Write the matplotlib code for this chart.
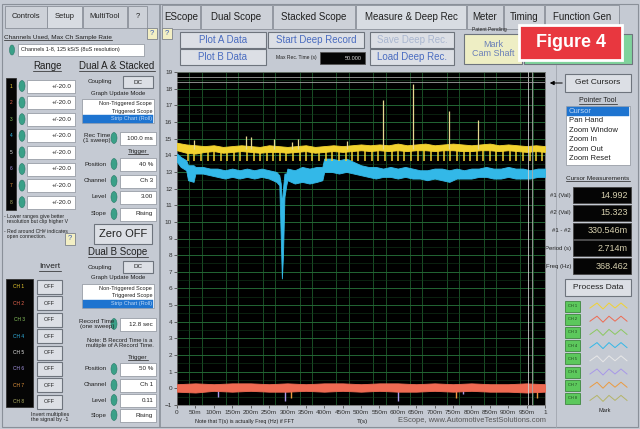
import matplotlib
matplotlib.use('Agg')
import matplotlib.pyplot as plt
from matplotlib.patches import Rectangle, Ellipse
import numpy as np

plt.rcParams['font.family'] = ['Liberation Sans', 'DejaVu Sans']

# ---- trace data ----
# CH1 (yellow) band envelope
yel_t = [0.0, 0.025, 0.05, 0.075, 0.1, 0.125, 0.15, 0.175, 0.2, 0.225, 0.25, 0.275, 0.3, 0.325,
         0.35, 0.375, 0.4, 0.425, 0.45, 0.475, 0.5, 0.525, 0.55, 0.575, 0.6, 0.625, 0.65, 0.675,
         0.7, 0.725, 0.75, 0.775, 0.8, 0.825, 0.85, 0.875, 0.9, 0.925, 0.95, 0.975, 1.0]
yel_hi = [14.75, 14.65, 14.6, 14.55, 14.6, 14.5, 14.55, 14.6, 14.55, 14.5, 14.6, 14.55, 14.5, 14.55,
          14.6, 14.5, 14.55, 14.6, 14.55, 14.6, 14.65, 14.6, 14.65, 14.6, 14.7, 14.6, 14.65, 14.7,
          14.6, 14.65, 14.7, 14.65, 14.6, 14.65, 14.7, 14.6, 14.65, 14.6, 14.55, 14.6, 14.55]
yel_lo = [14.3, 14.15, 14.1, 14.2, 14.25, 14.15, 14.2, 14.25, 14.2, 14.15, 14.2, 14.2, 14.15, 14.2,
          14.25, 14.15, 14.2, 14.25, 14.2, 14.25, 14.3, 14.25, 14.3, 14.25, 14.3, 14.25, 14.3, 14.3,
          14.25, 14.3, 14.3, 14.25, 14.25, 14.3, 14.3, 14.25, 14.3, 14.25, 14.2, 14.25, 14.2]
# downward teeth of CH1
yel_teeth = [0.030, 0.047, 0.066, 0.083, 0.101, 0.119, 0.137, 0.155, 0.172, 0.190, 0.208, 0.226,
             0.244, 0.262, 0.279, 0.297, 0.315, 0.333, 0.351, 0.368, 0.386, 0.404, 0.422, 0.440,
             0.458, 0.476, 0.493, 0.511, 0.529, 0.547, 0.565, 0.583, 0.600, 0.618, 0.636, 0.654,
             0.672, 0.690, 0.708, 0.725, 0.743, 0.761, 0.779, 0.797, 0.815, 0.832, 0.850, 0.868,
             0.886, 0.904, 0.922, 0.940, 0.958, 0.975, 0.993]
yel_teeth_lo = 13.65
# upward spikes of CH1
yel_spike_t = [0.047, 0.187, 0.200, 0.264, 0.312, 0.330, 0.461, 0.561, 0.640, 0.740, 0.819]
yel_spike_v = [14.9, 15.15, 15.1, 15.0, 14.8, 15.0, 14.85, 17.3, 18.25, 16.65, 16.1]

# CH4 (cyan) band envelope
cyan_t = [0.0, 0.010, 0.025, 0.030, 0.045, 0.050, 0.070, 0.090, 0.110, 0.130, 0.150, 0.170,
          0.190, 0.210, 0.230, 0.250, 0.270, 0.278, 0.282, 0.285, 0.288, 0.292, 0.297, 0.300,
          0.320, 0.340, 0.360, 0.380, 0.395, 0.400, 0.420, 0.440, 0.460, 0.480, 0.500, 0.520,
          0.540, 0.560, 0.580, 0.600, 0.620, 0.640, 0.660, 0.680, 0.700, 0.720, 0.740, 0.760,
          0.780, 0.800, 0.820, 0.840, 0.860, 0.880, 0.900, 0.920, 0.940, 0.960, 0.980, 1.000]
cyan_hi = [14.1, 13.9, 13.7, 13.4, 13.4, 13.3, 13.3, 13.2, 13.2, 13.1, 13.2, 13.1,
           13.2, 13.1, 13.2, 13.1, 13.0, 12.8, 12.3, 11.0, 12.0, 12.9, 12.9, 13.2,
           13.1, 13.3, 13.2, 13.3, 13.3, 13.8, 13.8, 13.7, 13.8, 13.6, 13.4, 13.3,
           13.3, 13.2, 13.3, 13.2, 13.3, 13.2, 13.1, 13.1, 13.2, 13.2, 13.1, 13.2,
           13.1, 13.2, 13.2, 13.3, 13.2, 13.2, 13.3, 13.2, 13.2, 13.1, 13.2, 13.2]
cyan_lo = [13.6, 13.3, 13.1, 12.5, 12.4, 12.9, 12.9, 12.8, 12.7, 12.6, 12.7, 12.6,
           12.7, 12.6, 12.7, 12.6, 12.4, 12.2, 9.0, 6.6, 8.0, 11.5, 12.2, 12.5,
           12.3, 12.4, 12.3, 12.4, 12.5, 13.0, 13.0, 12.9, 13.0, 12.9, 12.8, 12.7,
           12.6, 12.7, 12.7, 12.6, 12.7, 12.6, 12.6, 12.5, 12.6, 12.5, 12.4, 12.6,
           12.6, 12.6, 12.7, 12.7, 12.6, 12.6, 12.7, 12.6, 12.6, 12.6, 12.7, 12.7]

# CH2 (red) band envelope near 0 V
red_t = [0.0, 0.05, 0.1, 0.15, 0.2, 0.25, 0.3, 0.35, 0.4, 0.45, 0.5, 0.55, 0.6, 0.65, 0.7,
         0.75, 0.8, 0.85, 0.9, 0.95, 1.0]
red_hi = [0.25, 0.3, 0.25, 0.3, 0.3, 0.25, 0.3, 0.25, 0.3, 0.3, 0.25, 0.3, 0.3, 0.25, 0.3,
          0.25, 0.3, 0.25, 0.25, 0.3, 0.25]
red_lo = [-0.2, -0.25, -0.15, -0.2, -0.15, -0.2, -0.2, -0.15, -0.2, -0.15, -0.2, -0.15, -0.2,
          -0.2, -0.15, -0.2, -0.15, -0.2, -0.2, -0.25, -0.2]
# small glitches of CH6 / CH7 below zero
glitch_t = [0.112, 0.293, 0.311, 0.600, 0.758, 0.778, 0.977]
glitch_v = [-0.5, -0.75, -0.6, -0.75, -0.6, -0.35, -0.6]
glitch_ch = [6, 6, 7, 6, 7, 6, 7]

# cursors
cursor_t = [0.955, 0.964]
cursor_v = [18.68, 18.42]

x_ticks = [i * 0.05 for i in range(21)]
x_labels = ['0'] + ['%dm' % (50 * i) for i in range(1, 20)] + ['1']
y_ticks = list(range(-1, 20))

ch_colors = {1: '#f2d230', 2: '#ee6a52', 3: '#8cc860', 4: '#33b8e8',
             5: '#e8e8e8', 6: '#a898e8', 7: '#eb9a40', 8: '#b4b468'}

cursor_vals = [('#1 (Val)', '14.992'), ('#2 (Val)', '15.323'), ('#1 - #2', '330.546m'),
               ('Period (s)', '2.714m'), ('Freq (Hz)', '368.462')]
pointer_items = ['Cursor', 'Pan Hand', 'Zoom Window', 'Zoom In', 'Zoom Out', 'Zoom Reset']

# ---- figure ----
BG = '#c5cad3'
fig = plt.figure(figsize=(6.4, 4.29), dpi=100, facecolor=BG)
ui = fig.add_axes([0, 0, 1, 1])
ui.set_xlim(0, 640)
ui.set_ylim(429, 0)
ui.axis('off')
renderer = fig.canvas.get_renderer()


def box(x, y, w, h, fc='#e2e5ea', ec='#7d838c', lw=0.6, z=1):
    ui.add_patch(Rectangle((x, y), w, h, facecolor=fc, edgecolor=ec, linewidth=lw, zorder=z))


def txt(x, y, s, size=4.5, ha='center', color='#202020', underline=False, **kw):
    t = ui.text(x, y, s, fontsize=size, ha=ha, va='center', color=color, zorder=5, **kw)
    if underline:
        bb = t.get_window_extent(renderer).transformed(ui.transData.inverted())
        ui.plot([bb.x0, bb.x1], [bb.y0 + 0.3, bb.y0 + 0.3], color=color, lw=0.5, zorder=5)
    return t


def button(x, y, w, h, s, size=6, color='#202020'):
    box(x, y, w, h, fc='#dcdfe5', ec='#6e747d', lw=0.8)
    txt(x + w / 2, y + h / 2, s, size=size, color=color)


def knob(x, y):
    ui.add_patch(Ellipse((x, y), 6, 11, facecolor='#3aa088', edgecolor='#2b7a68', lw=0.4, zorder=3))


def field(x, y, w, s, size=4.5):
    box(x, y - 6.5, w, 13, fc='#ffffff', ec='#8a9099', lw=0.5)
    txt(x + w - 3, y, s, size=size, ha='right')


# panels
box(2, 4, 636, 423, fc=BG, ec='#8a9099', lw=0.8, z=0)
ui.plot([160, 160], [5, 427], color='#8a9099', lw=1.2)
ui.plot([556, 556], [65, 427], color='#a0a6ae', lw=0.6)

# tabs
for x0, w, s, act in [(5, 42, 'Controls', False), (47, 35, 'Setup', True),
                      (83, 44, 'MultiTool', False), (128, 19, '?', False)]:
    box(x0, 6, w, 22, fc='#d8dce2' if act else '#cdd1d8', ec='#8a9099')
    txt(x0 + w / 2, 17, s, size=5.5)
for x0, w, s, act in [(162, 38, 'EScope', False), (201, 71, 'Dual Scope', False),
                      (273, 82, 'Stacked Scope', False), (356, 110, 'Measure & Deep Rec', True),
                      (467, 36, 'Meter', False), (504, 40, 'Timing', False),
                      (545, 74, 'Function Gen', False)]:
    box(x0, 5, w, 24, fc='#d8dce2' if act else '#cdd1d8', ec='#8a9099')
    txt(x0 + w / 2, 17, s, size=7)

# top controls row
for xq, yq in [(147, 28), (162, 28)]:
    box(xq, yq, 10, 11, fc='#f3efc4', ec='#7d838c')
    txt(xq + 5, yq + 5.5, '?', size=5.5, color='#3a5fb0')
button(180, 32, 86, 16, 'Plot A Data', size=7, color='#4a6cc0')
button(180, 49, 86, 16, 'Plot B Data', size=7, color='#4a6cc0')
button(268, 32, 96, 16, 'Start Deep Record', size=7, color='#4a6cc0')
txt(296, 58, 'Max Rec. Time (s)', size=3.6)
box(320, 52, 45, 12, fc='#050505', ec='#555')
txt(362, 58, '50.000', size=4, ha='right', color='#d8d8d8')
button(370, 32, 84, 16, 'Save Deep Rec.', size=7, color='#a9b6cf')
button(370, 49, 84, 16, 'Load Deep Rec.', size=7, color='#4a6cc0')
txt(489, 30, 'Patent Pending', size=3.6)
box(464, 34, 58, 30, fc='#eeeec4', ec='#6e747d', lw=0.8)
txt(493, 49, 'Mark\nCam Shaft', size=6.5, color='#6a7fb8', linespacing=1.1)
box(524, 34, 108, 30, fc='#7fd39c', ec='#6e747d', lw=0.8)
ui.add_patch(Rectangle((519, 25), 103, 35, facecolor='#e8373f', edgecolor='white',
                       linewidth=2, zorder=6))
ui.text(570.5, 42.5, 'Figure 4', fontsize=13, fontweight='bold', color='white',
        ha='center', va='center', zorder=7)

# ---- left panel ----
txt(4, 37, 'Channels Used, Max Ch Sample Rate', size=4.6, ha='left', underline=True)
ui.add_patch(Ellipse((12, 50), 5, 10, facecolor='#3aa088', edgecolor='#2b7a68', lw=0.4, zorder=3))
box(18, 44, 126, 12, fc='#ffffff', ec='#8a9099', lw=0.5)
txt(21, 50, 'Channels 1-8, 125 kS/S (8uS resolution)', size=4, ha='left')
txt(47, 66, 'Range', size=7, underline=True)
txt(117, 66, 'Dual A & Stacked', size=7, underline=True)

box(6, 78, 10, 132, fc='#050505', ec='#333')
for i in range(8):
    yc = 86 + 16.6 * i
    txt(11, yc, str(i + 1), size=3.5, color=ch_colors[i + 1])
    knob(22, yc)
    field(27, yc, 48, '+/-20.0')


def scope_block(y0):
    txt(112, y0, 'Coupling', size=4.5, ha='right')
    button(123, y0 - 6, 30, 12, 'DC', size=4.5)
    txt(118, y0 + 11, 'Graph Update Mode', size=4.3)
    box(82, y0 + 17, 72, 24, fc='#ffffff', ec='#8a9099', lw=0.5)
    txt(152, y0 + 21.5, 'Non-Triggered Scope', size=4, ha='right')
    txt(152, y0 + 29, 'Triggered Scope', size=4, ha='right')
    box(83, y0 + 33, 70, 7.5, fc='#1e74d0', ec='#1e74d0', lw=0.3)
    txt(152, y0 + 36.8, 'Strip Chart (Roll)', size=4, ha='right', color='#bcd6f5')


scope_block(82)
txt(97, 138, 'Rec Time\n(1 sweep)', size=4.5, linespacing=1.0)
knob(114, 138)
field(120, 138, 36, '100.0 ms')
txt(138, 151, 'Trigger', size=4.5, underline=True)
for yc, lab, val in [(164, 'Position', '40 %'), (181, 'Channel', 'Ch 3'),
                     (197, 'Level', '3.00'), (214, 'Slope', 'Rising')]:
    txt(107, yc, lab, size=4.5, ha='right')
    knob(114, yc)
    field(120, yc, 36, val)
txt(4, 219, '- Lower ranges give better\n  resolution but clip higher V', size=3.7, ha='left',
    linespacing=1.05)
txt(4, 234, '- Red around CH# indicates\n  open connection.', size=3.7, ha='left', linespacing=1.05)
box(65, 233, 10, 12, fc='#f3efc4', ec='#7d838c')
txt(70, 239, '?', size=5.5, color='#3a5fb0')
button(94, 224, 58, 20, 'Zero OFF', size=8)
txt(118, 252, 'Dual B Scope', size=7, underline=True)
txt(50, 267, 'Invert', size=6, underline=True)

box(6, 279, 27, 128, fc='#050505', ec='#333')
for i in range(8):
    yc = 287 + 16.4 * i
    txt(19, yc, 'CH %d' % (i + 1), size=3.5, color=ch_colors[i + 1])
    button(37, yc - 7, 25, 14, 'OFF', size=4)
txt(50, 417, 'Invert multiplies\nthe signal by -1', size=4, linespacing=1.05)

scope_block(267)
txt(97, 324, 'Record Time\n(one sweep)', size=4.5, linespacing=1.0)
knob(114, 324)
field(120, 324, 36, '12.8 sec')
txt(120, 343, 'Note: B Record Time is a\nmultiple of A Record Time.', size=4.2, linespacing=1.05)
txt(138, 357, 'Trigger', size=4.5, underline=True)
for yc, lab, val in [(369, 'Position', '50 %'), (385, 'Channel', 'Ch 1'),
                     (400, 'Level', '0.11'), (415, 'Slope', 'Rising')]:
    txt(107, yc, lab, size=4.5, ha='right')
    knob(114, yc)
    field(120, yc, 36, val)

# ---- right panel ----
ui.annotate('', xy=(547, 83), xytext=(565, 83),
            arrowprops=dict(arrowstyle='-|>', color='black', lw=0.7, mutation_scale=6))
button(565, 74, 66, 18, 'Get Cursors', size=6)
txt(598, 100, 'Pointer Tool', size=5, underline=True)
box(566, 106, 64, 59, fc='#ffffff', ec='#8a9099', lw=0.5)
box(567, 107, 62, 9, fc='#1e74d0', ec='#1e74d0', lw=0.3)
for i, s in enumerate(pointer_items):
    txt(569, 111.5 + 9.4 * i, s, size=5.5, ha='left', color='#bcd6f5' if i == 0 else '#202020')
txt(598, 178, 'Cursor Measurements', size=4.6, underline=True)
for i, (lab, val) in enumerate(cursor_vals):
    yc = 195 + 17.8 * i
    txt(571, yc, lab, size=4.3, ha='right')
    box(573, yc - 8, 58, 16, fc='#050505', ec='#444')
    txt(628, yc, val, size=6.5, ha='right', color='#d6cfae')
button(565, 279, 66, 17, 'Process Data', size=6)
for i in range(8):
    yc = 306 + 13.2 * i
    box(565, yc - 5.5, 15, 11, fc='#5cc85c', ec='#2f7a2f', lw=0.5)
    txt(572.5, yc, 'CH %d' % (i + 1), size=2.8, color='#1a3a1a')
    ui.plot([590, 597, 603, 609, 615, 621, 627], [yc + 2, yc - 3, yc + 3, yc - 3, yc + 2, yc - 3, yc + 2],
            color=ch_colors[i + 1], lw=0.7)
txt(605, 411, 'Mark', size=4)

# bottom notes
txt(245, 422, 'Note that T(s) is actually Freq (Hz) if FFT', size=3.9)
txt(362, 422, 'T(s)', size=4.5)
txt(472, 421, 'EScope, www.AutomotiveTestSolutions.com', size=5.4, color='#555555')

# ---- scope axes ----
ax = fig.add_axes([177 / 640, (429 - 405) / 429, 368 / 640, 333 / 429])
ax.set_facecolor('black')
ax.set_xlim(0, 1)
ax.set_ylim(-1, 19)
ax.set_xticks(x_ticks)
ax.set_xticklabels(x_labels)
ax.set_yticks(y_ticks)
ax.set_xticks(np.linspace(0, 1, 31), minor=True)
ax.set_yticks(np.arange(-1, 19.01, 0.5), minor=True)
ax.tick_params(which='major', labelsize=4.6, colors='#303030', length=2, width=0.5, pad=1.5)
ax.tick_params(which='minor', length=0)
ax.grid(which='minor', axis='x', color='#1d5a2c', lw=0.6)
ax.grid(which='major', axis='y', color='#236634', lw=0.7)
ax.grid(which='minor', axis='y', color='#123d1c', lw=0.4)
for sp in ax.spines.values():
    sp.set_color('#707070')
    sp.set_linewidth(0.6)

ax.fill_between(cyan_t, cyan_lo, cyan_hi, color=ch_colors[4], lw=0.6, edgecolor=ch_colors[4], zorder=3)
ax.fill_between(red_t, red_lo, red_hi, color=ch_colors[2], lw=0.6, edgecolor=ch_colors[2], zorder=3)
ax.vlines(glitch_t, glitch_v, 0, colors=[ch_colors[c] for c in glitch_ch], lw=1.0, zorder=2)
ax.vlines(yel_teeth, yel_teeth_lo, 14.3, colors=ch_colors[1], lw=1.1, zorder=4)
ax.fill_between(yel_t, yel_lo, yel_hi, color=ch_colors[1], lw=0.6, edgecolor=ch_colors[1], zorder=4)
ax.vlines(yel_spike_t, 14.4, yel_spike_v, colors='#e8d890', lw=0.9, zorder=4)
for t, c in zip(cursor_t, ['#d0d0d0', '#a8a8a8']):
    ax.axvline(t, color=c, lw=0.6, zorder=5)
for v in cursor_v:
    ax.axhline(v, color='#a0a0a0', lw=0.6, zorder=5)

fig.savefig('out.png', dpi=100, facecolor=BG)
